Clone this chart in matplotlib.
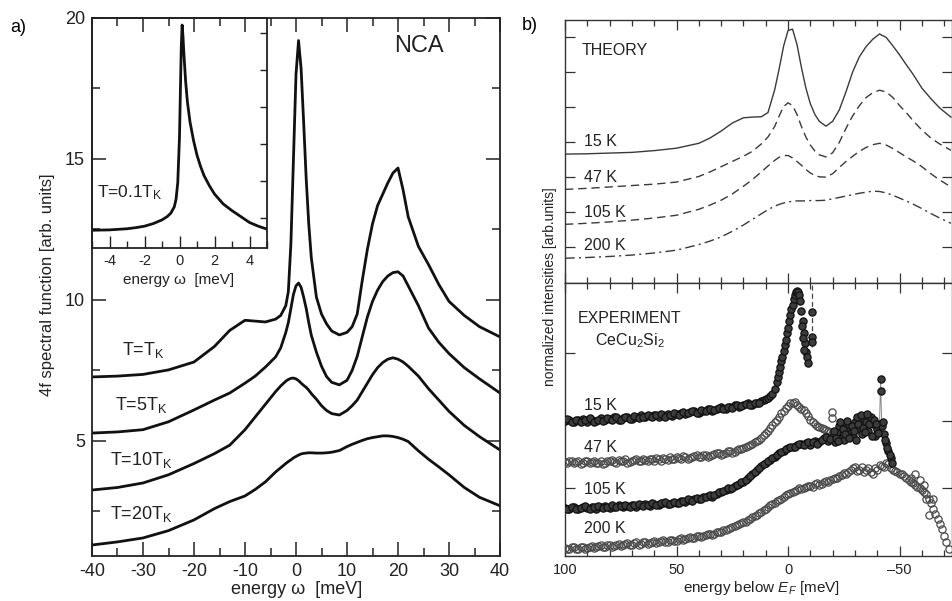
import numpy as np
import matplotlib
matplotlib.use('Agg')
import matplotlib.pyplot as plt
from matplotlib.ticker import MultipleLocator, FixedLocator

plt.rcParams['font.family'] = ['Liberation Sans', 'DejaVu Sans']
plt.rcParams['axes.unicode_minus'] = False
plt.rcParams['mathtext.fontset'] = 'custom'
plt.rcParams['mathtext.rm'] = 'Liberation Sans'
plt.rcParams['mathtext.it'] = 'Liberation Sans:italic'

# ---------------- panel a: NCA spectral functions ----------------
nca_omega = [-40, -35, -30, -25, -20, -16, -13, -10, -8, -6, -4, -3, -2, -1.5, -1, -0.5,
             0, 0.5, 1, 1.5, 2, 2.5, 3, 4, 5, 6, 7, 8.5, 10, 11, 12, 13, 14, 15, 16, 17,
             18, 19, 20, 21, 22, 24, 26, 28, 30, 33, 36, 40]
nca_T1 = [7.27, 7.30, 7.36, 7.52, 7.80, 8.35, 8.92, 9.28, 9.25, 9.22, 9.32, 9.45, 9.8, 10.3, 12.0, 15.0,
          18.0, 19.2, 18.2, 16.3, 14.3, 12.7, 11.5, 10.1, 9.5, 9.15, 8.9, 8.76, 8.85, 9.05, 9.5, 10.7,
          11.8, 12.7, 13.35, 13.75, 14.15, 14.5, 14.68, 13.9, 12.95, 11.9, 11.25, 10.55, 9.95, 9.45,
          9.05, 8.69]
nca_T5 = [5.28, 5.32, 5.40, 5.68, 6.1, 6.45, 6.7, 7.05, 7.3, 7.62, 7.98, 8.3, 8.85, 9.2, 9.7, 10.2,
          10.5, 10.6, 10.45, 10.1, 9.7, 9.2, 8.75, 8.15, 7.65, 7.28, 7.08, 6.99, 7.15, 7.5, 8.0, 8.7,
          9.4, 9.95, 10.35, 10.65, 10.85, 10.97, 11.0, 10.85, 10.5, 9.8, 9.0, 8.5, 8.1, 7.6, 7.2, 6.7]
nca_T10 = [3.26, 3.35, 3.51, 3.8, 4.2, 4.55, 4.85, 5.4, 5.85, 6.3, 6.75, 6.95, 7.12, 7.18, 7.22, 7.23,
           7.2, 7.14, 7.05, 6.97, 6.9, 6.8, 6.68, 6.48, 6.25, 6.08, 5.97, 5.92, 6.08, 6.25, 6.45, 6.75,
           7.05, 7.35, 7.6, 7.78, 7.9, 7.95, 7.9, 7.8, 7.65, 7.3, 6.85, 6.45, 6.05, 5.55, 5.15, 4.68]
nca_T20 = [1.31, 1.42, 1.56, 1.82, 2.2, 2.6, 2.85, 3.05, 3.28, 3.55, 3.9, 4.05, 4.2, 4.27, 4.33, 4.4,
           4.45, 4.5, 4.54, 4.56, 4.57, 4.58, 4.58, 4.57, 4.57, 4.58, 4.6, 4.66, 4.8, 4.88, 4.95, 5.02,
           5.08, 5.12, 5.15, 5.18, 5.18, 5.16, 5.12, 5.06, 4.98, 4.65, 4.35, 4.08, 3.8, 3.35, 3.0, 2.7]
nca_labels = ['T=T$_\\mathregular{K}$', 'T=5T$_\\mathregular{K}$',
              'T=10T$_\\mathregular{K}$', 'T=20T$_\\mathregular{K}$']
nca_label_x = [-34.1, -35.5, -36.5, -36.5]
nca_label_y = [8.05, 6.1, 4.15, 2.23]

inset_omega = [-5, -4, -3, -2.5, -2, -1.5, -1, -0.7, -0.5, -0.3, -0.2, -0.1, 0, 0.05, 0.1, 0.15,
               0.2, 0.25, 0.35, 0.45, 0.6, 0.8, 1.0, 1.2, 1.4, 1.7, 2.0, 2.5, 3.0, 3.5, 4.0, 4.5, 5]
inset_A = [-0.33, -0.32, -0.29, -0.26, -0.22, -0.15, -0.05, 0.04, 0.13, 0.3, 0.5, 0.95, 2.2, 3.4,
           4.6, 5.22, 4.9, 4.45, 3.7, 3.15, 2.6, 2.1, 1.7, 1.4, 1.15, 0.88, 0.65, 0.38, 0.2, 0.04,
           -0.12, -0.22, -0.3]

# ---------------- panel b: theory ----------------
th_e = [100, 90, 80, 70, 60, 50, 40, 35, 30, 25, 20, 16, 12, 9, 6, 4, 2, 0, -2, -4, -6, -8, -10,
        -12, -14, -17, -20, -23, -26, -29, -32, -35, -38, -41, -44, -47, -50, -53, -56, -60, -64,
        -68, -73]
th_15K = [2.66, 2.67, 2.69, 2.71, 2.76, 2.83, 2.97, 3.12, 3.32, 3.55, 3.7, 3.72, 3.73, 3.85, 4.5,
          5.1, 5.75, 6.2, 6.24, 5.8, 5.14, 4.55, 4.1, 3.8, 3.6, 3.46, 3.6, 3.93, 4.45, 5.02, 5.45,
          5.74, 5.95, 6.1, 6.0, 5.76, 5.5, 5.22, 4.95, 4.55, 4.25, 3.98, 3.72]
th_47K = [1.65, 1.68, 1.72, 1.76, 1.8, 1.86, 2.02, 2.15, 2.3, 2.45, 2.6, 2.74, 2.95, 3.15, 3.45,
          3.75, 4.02, 4.13, 4.05, 3.8, 3.45, 3.15, 2.92, 2.75, 2.64, 2.58, 2.7, 3.0, 3.4, 3.76, 4.05,
          4.28, 4.42, 4.49, 4.44, 4.28, 4.05, 3.85, 3.62, 3.35, 3.12, 2.95, 2.77]
th_105K = [0.65, 0.68, 0.72, 0.77, 0.83, 0.91, 1.08, 1.2, 1.34, 1.52, 1.74, 1.93, 2.15, 2.32, 2.48,
           2.57, 2.62, 2.62, 2.55, 2.45, 2.34, 2.22, 2.12, 2.05, 2.01, 2.0, 2.1, 2.28, 2.45, 2.6,
           2.74, 2.85, 2.93, 2.97, 2.92, 2.82, 2.7, 2.58, 2.47, 2.3, 2.1, 1.92, 1.72]
th_200K = [-0.32, -0.3, -0.27, -0.23, -0.17, -0.09, 0.07, 0.17, 0.29, 0.45, 0.63, 0.79, 0.95, 1.07,
           1.17, 1.22, 1.26, 1.29, 1.31, 1.32, 1.32, 1.32, 1.33, 1.33, 1.33, 1.34, 1.38, 1.42, 1.46,
           1.5, 1.54, 1.57, 1.6, 1.59, 1.55, 1.48, 1.4, 1.32, 1.23, 1.1, 0.96, 0.83, 0.68]
temp_labels = ['15 K', '47 K', '105 K', '200 K']
th_label_y = [3.03, 2.0, 1.0, 0.03]

# ---------------- panel b: experiment (CeCu2Si2) ----------------
# first pass: even energies
ex15_e = [100, 98, 96, 94, 92, 90, 88, 86, 84, 82, 80, 78, 76, 74, 72, 70, 68, 66, 64, 62, 60, 58,
          56, 54, 52, 50, 48, 46, 44, 42, 40, 38, 36, 34, 32, 30, 28, 26, 24, 22, 20, 18, 16, 14, 12,
          11, 10, 9, 8, 7, 6, 5, 4.5, 4, 3.5, 3, 2.5, 2, 1.5, 1, 0.5, 0, -0.5, -1, -1.5, -2, -2.5,
          -3, -3.5, -4, -4.5, -5, -5.5, -6, -6.5, -7, -7.5, -8, -8.5, -9]
ex15_i = [2.00, 2.02, 1.98, 2.01, 2.03, 1.99, 2.02, 2.00, 2.04, 2.01, 2.03, 2.05, 2.02, 2.04, 2.06,
          2.03, 2.05, 2.08, 2.05, 2.07, 2.09, 2.06, 2.08, 2.10, 2.07, 2.10, 2.12, 2.10, 2.13, 2.15,
          2.12, 2.15, 2.17, 2.15, 2.18, 2.20, 2.18, 2.21, 2.23, 2.21, 2.24, 2.26, 2.24, 2.27, 2.29,
          2.31, 2.33, 2.34, 2.37, 2.40, 2.47, 2.58, 2.65, 2.72, 2.80, 2.88, 2.95, 3.04, 3.12, 3.20,
          3.30, 3.38, 3.48, 3.56, 3.65, 3.72, 3.80, 3.86, 3.90, 3.92, 3.90, 3.86, 3.78, 3.62, 3.48,
          3.30, 3.15, 3.02, 2.95, 2.86]
ex15_out_e = [-10.8, -10.8, -10.8, -6.2, -6.6, -7.2]
ex15_out_i = [3.61, 3.24, 3.17, 3.40, 3.22, 3.05]
ef_mark_e = -10.8
ef_mark_low = 3.1

ex47_e = [100, 98, 96, 94, 92, 90, 88, 86, 84, 82, 80, 78, 76, 74, 72, 70, 68, 66, 64, 62, 60, 58,
          56, 54, 52, 50, 48, 46, 44, 42, 40, 38, 36, 34, 32, 30, 28, 26, 24, 22, 20, 18, 16, 14, 12,
          10, 8, 6, 4, 2, 0, -2, -4, -6, -8, -10, -12, -14, -16, -18, -20, -19.6, -19.6]
ex47_i = [1.39, 1.41, 1.37, 1.40, 1.38, 1.41, 1.39, 1.37, 1.40, 1.38, 1.41, 1.39, 1.42, 1.40, 1.38,
          1.41, 1.43, 1.40, 1.42, 1.44, 1.41, 1.43, 1.45, 1.42, 1.44, 1.46, 1.44, 1.47, 1.45, 1.48,
          1.46, 1.49, 1.47, 1.50, 1.52, 1.50, 1.53, 1.55, 1.54, 1.58, 1.60, 1.63, 1.66, 1.70, 1.75,
          1.82, 1.90, 1.98, 2.06, 2.15, 2.22, 2.27, 2.24, 2.18, 2.12, 2.02, 1.95, 1.91, 1.88, 1.85,
          1.82, 2.13, 2.04]

ex105_e = [100, 98, 96, 94, 92, 90, 88, 86, 84, 82, 80, 78, 76, 74, 72, 70, 68, 66, 64, 62, 60, 58,
           56, 54, 52, 50, 48, 46, 44, 42, 40, 38, 36, 34, 32, 30, 28, 26, 24, 22, 20, 18, 16, 14,
           12, 10, 8, 6, 4, 2, 0, -2, -4, -6, -8, -10, -12, -14, -16, -18, -20, -21, -22, -23, -24,
           -25, -26, -27, -28, -29, -30, -31, -32, -33, -34, -35, -36, -37, -38, -39, -40, -41,
           -41.5, -41.6, -42, -43, -44, -45, -46]
ex105_i = [0.71, 0.69, 0.72, 0.70, 0.72, 0.71, 0.73, 0.70, 0.72, 0.74, 0.71, 0.73, 0.75, 0.72, 0.74,
           0.76, 0.73, 0.75, 0.77, 0.74, 0.77, 0.76, 0.78, 0.77, 0.79, 0.78, 0.81, 0.80, 0.83, 0.85,
           0.84, 0.87, 0.89, 0.88, 0.92, 0.94, 0.97, 0.99, 1.03, 1.06, 1.10, 1.15, 1.21, 1.27, 1.33,
           1.38, 1.42, 1.47, 1.52, 1.56, 1.60, 1.62, 1.64, 1.66, 1.67, 1.65, 1.70, 1.68, 1.74, 1.70,
           1.78, 1.68, 1.84, 1.92, 1.75, 1.72, 1.90, 1.95, 1.82, 1.78, 1.98, 2.05, 1.88, 1.80, 2.02,
           1.98, 1.85, 2.05, 1.96, 1.78, 1.88, 1.95, 2.62, 2.44, 1.92, 1.80, 1.67, 1.55, 1.45]

ex200_e = [100, 98, 96, 94, 92, 90, 88, 86, 84, 82, 80, 78, 76, 74, 72, 70, 68, 66, 64, 62, 60, 58,
           56, 54, 52, 50, 48, 46, 44, 42, 40, 38, 36, 34, 32, 30, 28, 26, 24, 22, 20, 18, 16, 14,
           12, 10, 8, 6, 4, 2, 0, -2, -4, -6, -8, -10, -12, -14, -16, -18, -20, -22, -24, -26, -28,
           -30, -32, -34, -36, -38, -40, -42, -44, -46, -48, -50, -52, -54, -56, -58, -60, -62, -64,
           -66, -68, -70, -72, -55, -57, -59, -61, -63, -62, -65]
ex200_i = [0.12, 0.10, 0.13, 0.11, 0.14, 0.12, 0.15, 0.13, 0.16, 0.14, 0.17, 0.15, 0.18, 0.16, 0.19,
           0.17, 0.20, 0.18, 0.21, 0.19, 0.22, 0.20, 0.23, 0.21, 0.24, 0.22, 0.26, 0.25, 0.28, 0.27,
           0.30, 0.29, 0.32, 0.31, 0.35, 0.36, 0.39, 0.41, 0.45, 0.47, 0.50, 0.53, 0.57, 0.61, 0.65,
           0.70, 0.75, 0.79, 0.83, 0.87, 0.92, 0.95, 0.97, 0.99, 1.02, 1.03, 1.06, 1.05, 1.09, 1.10,
           1.14, 1.16, 1.20, 1.22, 1.27, 1.32, 1.28, 1.25, 1.30, 1.22, 1.28, 1.33, 1.38, 1.30, 1.26,
           1.22, 1.18, 1.12, 1.08, 1.02, 0.98, 0.92, 0.78, 0.62, 0.48, 0.30, 0.10, 1.16, 1.22, 1.12,
           1.05, 0.60, 0.84, 0.85]

# second pass: odd energies (other edge of each noisy band)
ex15_e2 = [99, 97, 95, 93, 91, 89, 87, 85, 83, 81, 79, 77, 75, 73, 71, 69, 67, 65, 63, 61, 59, 57,
           55, 53, 51, 49, 47, 45, 43, 41, 39, 37, 35, 33, 31, 29, 27, 25, 23, 21, 19, 17, 15, 13]
ex15_i2 = [2.03, 1.99, 2.02, 1.98, 2.01, 2.04, 1.99, 2.02, 2.00, 2.04, 2.02, 2.05, 2.01, 2.06, 2.03,
           2.07, 2.04, 2.06, 2.09, 2.05, 2.08, 2.10, 2.06, 2.09, 2.11, 2.08, 2.13, 2.11, 2.14, 2.12,
           2.16, 2.14, 2.18, 2.16, 2.19, 2.17, 2.21, 2.19, 2.24, 2.22, 2.25, 2.23, 2.27, 2.26]
ex47_e2 = [99, 97, 95, 93, 91, 89, 87, 85, 83, 81, 79, 77, 75, 73, 71, 69, 67, 65, 63, 61, 59, 57,
           55, 53, 51, 49, 47, 45, 43, 41, 39, 37, 35, 33, 31, 29, 27, 25, 23, 21, 19, 17, 15, 13,
           11, 9, 7, 5, 3, 1, -1, -3, -5, -7, -9, -11, -13, -15, -17, -19]
ex47_i2 = [1.38, 1.41, 1.39, 1.36, 1.40, 1.38, 1.41, 1.38, 1.36, 1.40, 1.42, 1.38, 1.40, 1.43, 1.39,
           1.42, 1.40, 1.43, 1.41, 1.43, 1.45, 1.41, 1.44, 1.46, 1.43, 1.45, 1.48, 1.44, 1.47, 1.49,
           1.46, 1.50, 1.48, 1.51, 1.53, 1.51, 1.55, 1.53, 1.57, 1.58, 1.62, 1.64, 1.69, 1.72, 1.79,
           1.85, 1.94, 2.02, 2.11, 2.19, 2.26, 2.28, 2.20, 2.16, 2.07, 1.99, 1.92, 1.90, 1.86, 1.84]
ex105_e2 = [99, 97, 95, 93, 91, 89, 87, 85, 83, 81, 79, 77, 75, 73, 71, 69, 67, 65, 63, 61, 59, 57,
            55, 53, 51, 49, 47, 45, 43, 41, 39, 37, 35, 33, 31, 29, 27, 25, 23, 21, 19, 17, 15, 13,
            11, 9, 7, 5, 3, 1, -1, -3, -5, -7, -9, -11, -13, -15, -17, -19, -20.5, -21.5, -22.5,
            -23.5, -24.5, -25.5, -26.5, -27.5, -28.5, -29.5, -30.5, -31.5, -32.5, -33.5, -34.5,
            -35.5, -36.5, -37.5, -38.5, -39.5, -40.5, -42.5, -43.5, -44.5, -45.5, -46.5]
ex105_i2 = [0.70, 0.73, 0.69, 0.71, 0.74, 0.70, 0.72, 0.74, 0.71, 0.73, 0.75, 0.72, 0.74, 0.76, 0.73,
            0.75, 0.77, 0.74, 0.76, 0.78, 0.75, 0.78, 0.80, 0.77, 0.80, 0.79, 0.82, 0.84, 0.82, 0.86,
            0.85, 0.88, 0.91, 0.90, 0.95, 0.96, 1.00, 1.01, 1.05, 1.09, 1.12, 1.18, 1.24, 1.30, 1.36,
            1.40, 1.45, 1.50, 1.54, 1.58, 1.62, 1.61, 1.66, 1.64, 1.68, 1.69, 1.66, 1.72, 1.76, 1.73,
            1.85, 1.75, 1.70, 1.98, 1.88, 1.80, 2.00, 1.75, 1.92, 1.85, 1.72, 1.95, 2.08, 1.90, 1.83,
            2.10, 1.95, 1.78, 2.02, 1.95, 1.82, 1.98, 1.72, 1.60, 1.50, 1.38]
ex200_e2 = [99, 97, 95, 93, 91, 89, 87, 85, 83, 81, 79, 77, 75, 73, 71, 69, 67, 65, 63, 61, 59, 57,
            55, 53, 51, 49, 47, 45, 43, 41, 39, 37, 35, 33, 31, 29, 27, 25, 23, 21, 19, 17, 15, 13,
            11, 9, 7, 5, 3, 1, -1, -3, -5, -7, -9, -11, -13, -15, -17, -19, -21, -23, -25, -27, -29,
            -31, -33, -35, -37, -39, -41, -43, -45, -47, -49, -51, -53, -55, -57, -59, -61, -63, -65,
            -67, -69, -71]
ex200_i2 = [0.11, 0.14, 0.10, 0.13, 0.11, 0.14, 0.12, 0.15, 0.13, 0.16, 0.14, 0.17, 0.15, 0.18, 0.16,
            0.19, 0.17, 0.20, 0.18, 0.21, 0.19, 0.22, 0.20, 0.23, 0.22, 0.25, 0.23, 0.27, 0.26, 0.29,
            0.28, 0.31, 0.33, 0.32, 0.35, 0.38, 0.40, 0.43, 0.46, 0.49, 0.51, 0.55, 0.59, 0.63, 0.68,
            0.72, 0.77, 0.81, 0.85, 0.90, 0.93, 0.96, 1.00, 1.00, 1.04, 1.02, 1.08, 1.07, 1.11, 1.12,
            1.15, 1.18, 1.23, 1.25, 1.30, 1.26, 1.31, 1.27, 1.24, 1.30, 1.35, 1.31, 1.36, 1.28, 1.24,
            1.21, 1.15, 1.10, 1.05, 1.00, 0.95, 0.85, 0.70, 0.55, 0.40, 0.20]
ex_label_y = [2.22, 1.61, 0.99, 0.40]

W, H = 952, 601
ink = '#222222'


def box(l, t, r, b):
    return [l / W, (H - b) / H, (r - l) / W, (b - t) / H]


fig = plt.figure(figsize=(W / 100, H / 100), dpi=100)

# ----- panel a main axes
ax = fig.add_axes(box(92, 18, 500, 556))
for y, lab, lx, ly in zip([nca_T1, nca_T5, nca_T10, nca_T20], nca_labels, nca_label_x, nca_label_y):
    ax.plot(nca_omega, y, color='#111111', lw=2.0, solid_joinstyle='round')
    ax.text(lx, ly, lab, fontsize=13, color=ink, va='baseline')
ax.text(19.2, 19.0, 'NCA', fontsize=17, color=ink, va='center')
ax.set_xlim(-40, 40)
ax.set_ylim(0.92, 20)
ax.xaxis.set_major_locator(MultipleLocator(10))
ax.xaxis.set_minor_locator(MultipleLocator(5))
ax.yaxis.set_major_locator(FixedLocator([5, 10, 15, 20]))
ax.yaxis.set_minor_locator(MultipleLocator(2.5))
ax.tick_params(which='both', direction='in', top=True, right=True, width=1.1, color=ink,
               labelsize=13, labelcolor=ink, pad=5)
ax.tick_params(which='major', length=10)
ax.tick_params(which='minor', length=5.5)
for s in ax.spines.values():
    s.set_linewidth(1.3)
    s.set_color(ink)

# ----- inset
axi = fig.add_axes(box(92, 18, 267, 248), facecolor='none')
axi.plot(inset_omega, inset_A, color='#111111', lw=2.0)
axi.text(-4.7, 0.57, 'T=0.1T$_\\mathregular{K}$', fontsize=12.5, color=ink, va='baseline')
axi.set_xlim(-5, 5)
axi.set_ylim(-0.81, 5.41)
axi.xaxis.set_major_locator(FixedLocator([-4, -2, 0, 2, 4]))
axi.xaxis.set_minor_locator(FixedLocator([-5, -3, -1, 1, 3, 5]))
axi.yaxis.set_major_locator(FixedLocator([0, 1, 2, 3, 4, 5]))
axi.tick_params(which='both', direction='in', top=False, left=False, right=True, width=1.0,
                color=ink, labelsize=10.5, labelcolor=ink, labelleft=False, pad=4)
axi.tick_params(axis='x', which='major', length=8.5)
axi.tick_params(axis='x', which='minor', length=5)
axi.tick_params(axis='y', which='major', length=5)
for s in axi.spines.values():
    s.set_linewidth(1.3)
    s.set_color(ink)
fig.text(179 / W, (H - 280) / H, 'energy ω  [meV]', fontsize=11, color=ink, ha='center', va='center')

fig.text(48 / W, (H - 285) / H, '4f spectral function [arb. units]', fontsize=12, color=ink,
         rotation=90, ha='center', va='center')
fig.text(297 / W, (H - 590) / H, 'energy ω  [meV]', fontsize=13, color=ink, ha='center', va='center')
fig.text(10 / W, (H - 28) / H, 'a)', fontsize=13, color='black', ha='left', va='center')
fig.text(522 / W, (H - 25) / H, 'b)', fontsize=13, color='black', ha='left', va='center')

# ----- panel b theory
axt = fig.add_axes(box(565, 20, 952, 283))
gray = '#3a3a3a'
axt.plot(th_e, th_15K, color=gray, lw=1.0)
axt.plot(th_e, th_47K, color=gray, lw=1.0, dashes=(6, 3.5))
axt.plot(th_e, th_105K, color=gray, lw=1.0, dashes=(6, 3.5))
axt.plot(th_e, th_200K, color=gray, lw=1.0, dashes=(7, 3, 1.5, 3))
axt.text(92.4, 5.63, 'THEORY', fontsize=11.5, color=ink, va='center')
for lab, ly in zip(temp_labels, th_label_y):
    axt.text(91.5, ly, lab, fontsize=11.5, color=ink, va='center')
axt.set_xlim(100, -73.5)
axt.set_ylim(-1.03, 6.5)
axt.yaxis.set_major_locator(FixedLocator([0, 1, 2, 3, 4, 5, 6]))

# ----- panel b experiment
axe = fig.add_axes(box(565, 283, 952, 556))
dark = dict(ls='none', marker='o', ms=5.2, mfc='#3c3c3c', mec='#111111', mew=0.9, zorder=4)
light = dict(ls='none', marker='o', ms=5.2, mfc='none', mec='#4a4a4a', mew=0.9, zorder=3)
axe.plot(ex105_e, ex105_i, '-', color='#8a8a8a', lw=0.7, zorder=2)
axe.plot(ex200_e + ex200_e2, ex200_i + ex200_i2, **light)
axe.plot(ex47_e + ex47_e2, ex47_i + ex47_i2, **light)
axe.plot(ex105_e + ex105_e2, ex105_i + ex105_i2, **dark)
axe.plot(ex15_e + ex15_e2 + ex15_out_e, ex15_i + ex15_i2 + ex15_out_i, **dark)
axe.axvline(ef_mark_e, ymin=ef_mark_low / 4.04, ymax=1, color='#444444', lw=0.9, dashes=(4, 2.5))
axe.text(94.2, 3.51, 'EXPERIMENT', fontsize=11.5, color=ink, va='center')
axe.text(86.5, 3.19, 'CeCu$_\\mathregular{2}$Si$_\\mathregular{2}$', fontsize=11.5, color=ink, va='center')
for lab, ly in zip(temp_labels, ex_label_y):
    axe.text(91.5, ly, lab, fontsize=11.5, color=ink, va='center')
axe.set_xlim(100, -73.5)
axe.set_ylim(0, 4.04)
axe.yaxis.set_major_locator(FixedLocator([1, 2, 3]))

for a in (axt, axe):
    a.xaxis.set_major_locator(FixedLocator([100, 50, 0, -50]))
    a.xaxis.set_minor_locator(MultipleLocator(10))
    a.tick_params(which='both', direction='in', top=True, right=True, width=0.9, color='#333333',
                  labelleft=False, labelsize=10.5, labelcolor=ink, pad=5)
    a.tick_params(which='major', length=7)
    a.tick_params(which='minor', length=4.5)
    for s in a.spines.values():
        s.set_linewidth(1.0)
        s.set_color('#333333')
axt.tick_params(labelbottom=False)
axe.set_xticks([100, 50, 0, -50])
axe.set_xticklabels(['100', '50', '0', '\u201350'])

fig.text(550 / W, (H - 287) / H, 'normalized intensities [arb.units]', fontsize=10, color=ink,
         rotation=90, ha='center', va='center')
fig.text(761 / W, (H - 588) / H, 'energy below $\\mathit{E_F}$ [meV]', fontsize=11, color=ink,
         ha='center', va='center')

fig.savefig('out.png', dpi=100)
